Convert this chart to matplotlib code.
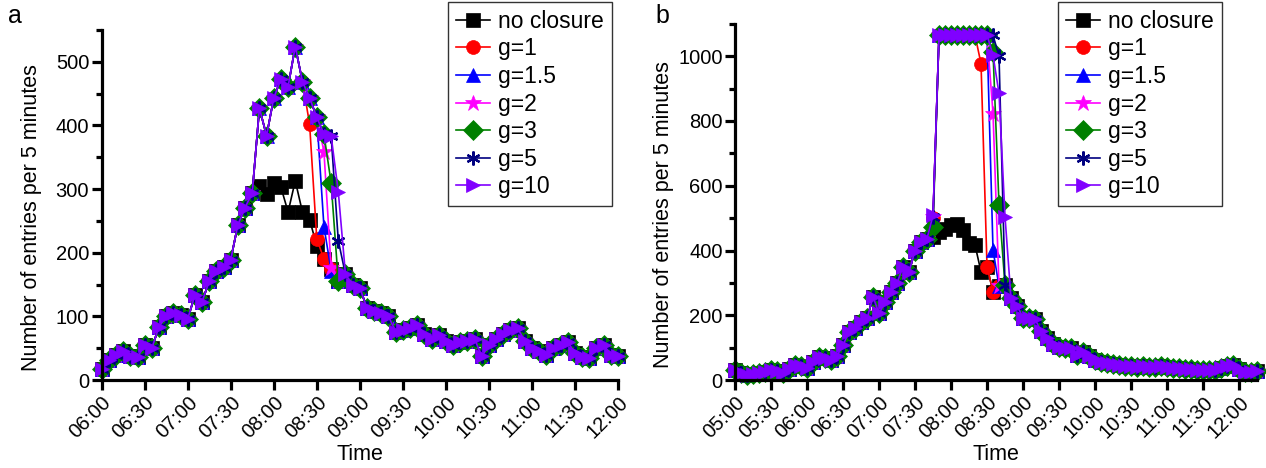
import matplotlib
matplotlib.use('Agg')
import matplotlib.pyplot as plt
from matplotlib.ticker import MultipleLocator, FuncFormatter

plt.rcParams['font.family'] = ['Liberation Sans', 'DejaVu Sans']

labels = ['no closure', 'g=1', 'g=1.5', 'g=2', 'g=3', 'g=5', 'g=10']
colors = ['#000000', '#ff0000', '#0000ff', '#ff00ff', '#008000', '#000080', '#8000ff']
markers = ['s', 'o', '^', '*', 'D', (6, 2, 0), '>']

# ---- panel a: 06:00 - 12:00, one value per 5 minutes
a_t0 = 6 * 60
a_no_closure = [18, 32, 40, 45, 37, 36, 55, 50, 84, 100, 105, 102, 96, 133, 123, 155,
                172, 177, 189, 244, 271, 294, 305, 292, 309, 303, 264, 313, 264, 252,
                211, 190, 175, 155, 166, 150, 145, 113, 108, 105, 100, 76, 78, 82, 86,
                73, 65, 71, 62, 55, 60, 62, 65, 37, 55, 65, 73, 78, 81, 62, 50, 45, 39,
                50, 55, 60, 42, 36, 34, 50, 55, 40, 38]
a_jam_i0 = 22  # 07:50
a_jam = [427, 384, 443, 473, 461, 524, 469, 443, 413, 386, 384, 296]
# g: (jam points kept, values while the jam clears)
a_clear = {
    'g=1': (7, [402, 222, 190]),
    'g=1.5': (9, [241, 172]),
    'g=2': (9, [359, 176]),
    'g=3': (10, [310, 155]),
    'g=5': (11, [219]),
    'g=10': (12, []),
}

# ---- panel b: 05:00 - 12:15, one value per 5 minutes
b_t0 = 5 * 60
b_no_closure = [30, 22, 15, 18, 22, 25, 31, 28, 21, 35, 46, 42, 36, 55, 72, 68, 62, 75,
                108, 149, 160, 178, 190, 257, 206, 240, 273, 300, 350, 334, 400, 425,
                437, 442, 458, 465, 480, 483, 463, 422, 417, 334, 350, 273, 290, 292,
                252, 230, 192, 190, 188, 150, 130, 110, 102, 100, 98, 78, 88, 75, 62,
                56, 52, 50, 46, 42, 42, 40, 42, 40, 41, 42, 40, 38, 36, 35, 33, 31, 30,
                31, 32, 38, 44, 46, 35, 26, 25, 27]
b_jam_i0 = 33  # 07:45
b_cap = 1065
b_jump = {'g=1': 500, 'g=1.5': 500, 'g=2': 505, 'g=3': 473, 'g=5': 505, 'g=10': 509}
# g: (points at capacity, values while the jam clears)
b_clear = {
    'g=1': (7, [977, 350, 273]),
    'g=1.5': (9, [401]),
    'g=2': (9, [823]),
    'g=3': (9, [1013, 540]),
    'g=5': (10, [1000]),
    'g=10': (9, [1003, 885, 504]),
}


def build_a(g):
    y = list(a_no_closure)
    n, rest = a_clear[g]
    seg = a_jam[:n] + rest
    y[a_jam_i0:a_jam_i0 + len(seg)] = seg
    return y


def build_b(g):
    y = list(b_no_closure)
    n, rest = b_clear[g]
    seg = [b_jump[g]] + [b_cap] * n + rest
    y[b_jam_i0:b_jam_i0 + len(seg)] = seg
    return y


def hhmm(v, pos):
    v = int(round(v))
    return '%02d:%02d' % (v // 60, v % 60)


def style(ax, t0, t1, ymax, ymaj, ymin):
    for s in ['top', 'right']:
        ax.spines[s].set_visible(False)
    for s in ['left', 'bottom']:
        ax.spines[s].set_linewidth(2.3)
    ax.set_xlim(t0, t1)
    ax.set_ylim(0, ymax)
    ax.xaxis.set_major_locator(MultipleLocator(30))
    ax.xaxis.set_major_formatter(FuncFormatter(hhmm))
    ax.yaxis.set_major_locator(MultipleLocator(ymaj))
    ax.yaxis.set_minor_locator(MultipleLocator(ymin))
    ax.tick_params(which='major', length=7, width=2.3, labelsize=14.5, direction='out', pad=2)
    ax.tick_params(which='minor', length=4, width=2.3)
    for lab in ax.get_xticklabels():
        lab.set_rotation(45)
        lab.set_ha('right')
        lab.set_rotation_mode('anchor')
    ax.set_xlabel('Time', fontsize=15.5, labelpad=2)
    ax.set_ylabel('Number of entries per 5 minutes', fontsize=15.5)
    ax.yaxis.set_label_coords(-0.116, 0.465)


def draw(ax, t0, series):
    for lab, c, m, y in zip(labels, colors, markers, series):
        x = [t0 + 5 * k for k in range(len(y))]
        mew = 1.6 if lab == 'g=5' else 0.5
        ms = 10 if lab != 'g=2' else 12
        ax.plot(x, y, color=c, marker=m, ms=ms, mew=mew, mec=c, mfc=c,
                lw=1.2, label=lab, clip_on=False)


fig = plt.figure(figsize=(12.66, 4.68), dpi=100)
ax1 = fig.add_axes([0.0803, 0.188, 0.4078, 0.748])
ax2 = fig.add_axes([0.5806, 0.188, 0.4123, 0.761])

sa = [a_no_closure] + [build_a(g) for g in labels[1:]]
sb = [b_no_closure] + [build_b(g) for g in labels[1:]]
draw(ax1, a_t0, sa)
draw(ax2, b_t0, sb)
style(ax1, a_t0, a_t0 + 5 * (len(a_no_closure) - 1), 550, 100, 50)
style(ax2, b_t0, b_t0 + 5 * (len(b_no_closure) - 1), 1100, 200, 100)

for ax, xr in [(ax1, 612 / 1266), (ax2, 1222 / 1266)]:
    leg = ax.legend(loc='upper right', bbox_to_anchor=(xr, 0.996),
                    bbox_transform=fig.transFigure, fontsize=16.5, frameon=True,
                    fancybox=False, edgecolor='black', borderaxespad=0,
                    handlelength=1.5, handletextpad=0.35, labelspacing=0.2,
                    borderpad=0.35)
    leg.get_frame().set_linewidth(1.0)

fig.text(0.006, 0.95, 'a', fontsize=18)
fig.text(0.518, 0.95, 'b', fontsize=18)

fig.savefig('out.png', dpi=100)
